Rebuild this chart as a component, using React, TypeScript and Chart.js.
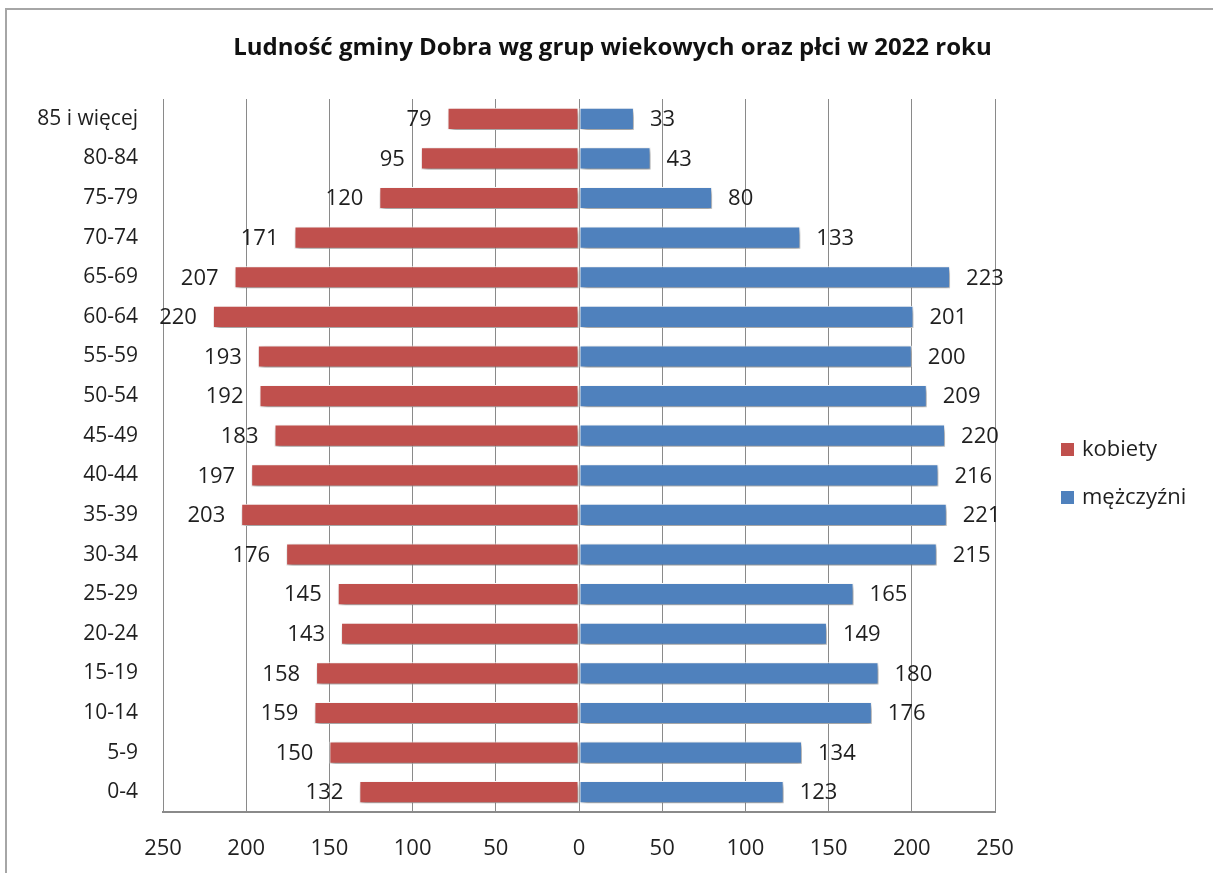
import React, { useEffect, useRef } from "react";
import { Chart, registerables } from "chart.js";

Chart.register(...registerables);

const TITLE = "Ludność gminy Dobra wg grup wiekowych oraz płci w 2022 roku";
const ageGroups = [
  "85 i więcej", "80-84", "75-79", "70-74", "65-69", "60-64", "55-59", "50-54", "45-49",
  "40-44", "35-39", "30-34", "25-29", "20-24", "15-19", "10-14", "5-9", "0-4",
];
const kobiety = [79, 95, 120, 171, 207, 220, 193, 192, 183, 197, 203, 176, 145, 143, 158, 159, 150, 132];
const mezczyzni = [33, 43, 80, 133, 223, 201, 200, 209, 220, 216, 221, 215, 165, 149, 180, 176, 134, 123];
const seriesNames = ["kobiety", "mężczyźni"];
const axisMin = -250;
const axisMax = 250;
const axisStep = 50;

const RED = "#C0504D";
const BLUE = "#4F81BD";
const FONT = "'Open Sans', 'Noto Sans', sans-serif";
const TEXT = "#1f1f1f";

const shadowPlugin = {
  id: "barShadow",
  beforeDatasetsDraw(chart: any) {
    const ctx = chart.ctx;
    ctx.save();
    ctx.shadowColor = "rgba(0,0,0,0.45)";
    ctx.shadowBlur = 5;
    ctx.shadowOffsetX = 2;
    ctx.shadowOffsetY = 3;
  },
  afterDatasetsDraw(chart: any) {
    chart.ctx.restore();
  },
};

const labelsPlugin = {
  id: "barLabels",
  afterDatasetsDraw(chart: any) {
    const ctx = chart.ctx;
    ctx.save();
    ctx.font = `22px ${FONT}`;
    ctx.fillStyle = TEXT;
    ctx.textBaseline = "middle";
    chart.data.datasets.forEach((ds: any, di: number) => {
      const meta = chart.getDatasetMeta(di);
      meta.data.forEach((bar: any, i: number) => {
        const v = ds.data[i];
        const txt = String(Math.abs(v));
        if (v < 0) {
          ctx.textAlign = "right";
          ctx.fillText(txt, bar.x - 16, bar.y + 1);
        } else {
          ctx.textAlign = "left";
          ctx.fillText(txt, bar.x + 16, bar.y + 1);
        }
      });
    });
    ctx.restore();
  },
};

const titleLegendPlugin = {
  id: "titleLegend",
  afterDraw(chart: any) {
    const ctx = chart.ctx;
    ctx.save();
    ctx.fillStyle = "#111";
    ctx.font = `bold 24px ${FONT}`;
    ctx.textAlign = "center";
    ctx.textBaseline = "middle";
    ctx.fillText(TITLE, chart.width / 2 + 6, 48);

    const colors = [RED, BLUE];
    const ys = [450, 498];
    ctx.font = `22px ${FONT}`;
    ctx.textAlign = "left";
    seriesNames.forEach((name, i) => {
      ctx.fillStyle = colors[i];
      ctx.fillRect(1061, ys[i] - 7, 13, 13);
      ctx.fillStyle = TEXT;
      ctx.fillText(name, 1082, ys[i]);
    });
    ctx.restore();
  },
};

export default function App() {
  const ref = useRef<HTMLCanvasElement | null>(null);

  useEffect(() => {
    if (!ref.current) return;
    const chart = new Chart(ref.current, {
      type: "bar",
      data: {
        labels: ageGroups,
        datasets: [
          {
            label: seriesNames[0],
            data: kobiety.map((v) => -v),
            backgroundColor: RED,
            borderColor: "#ffffff",
            borderWidth: 1,
            borderSkipped: false,
          },
          {
            label: seriesNames[1],
            data: mezczyzni,
            backgroundColor: BLUE,
            borderColor: "#ffffff",
            borderWidth: 1,
            borderSkipped: false,
          },
        ],
      },
      options: {
        indexAxis: "y",
        animation: false,
        responsive: true,
        maintainAspectRatio: false,
        layout: { padding: { left: 0, top: 99, right: 218, bottom: 0 } },
        datasets: { bar: { categoryPercentage: 1, barPercentage: 0.56 } },
        plugins: {
          legend: { display: false },
          title: { display: false },
          tooltip: { enabled: false },
        },
        scales: {
          x: {
            type: "linear",
            stacked: true,
            min: axisMin,
            max: axisMax,
            ticks: {
              stepSize: axisStep,
              padding: 24,
              color: TEXT,
              font: { family: FONT, size: 22 },
              callback: (v: any) => String(Math.abs(Number(v))),
            },
            grid: { color: "#8a8a8a", lineWidth: 1, drawTicks: false },
            border: { display: true, color: "#8a8a8a", width: 2 },
            afterFit: (s: any) => {
              s.height = 61;
            },
          },
          y: {
            stacked: true,
            ticks: {
              padding: 25,
              color: TEXT,
              font: { family: FONT, size: 21 },
            },
            grid: { display: false, drawTicks: false },
            border: { display: true, color: "#8a8a8a", width: 1 },
            afterFit: (s: any) => {
              s.width = 163;
            },
          },
        },
      },
      plugins: [shadowPlugin, labelsPlugin, titleLegendPlugin],
    } as any);
    return () => chart.destroy();
  }, []);

  return (
    <div
      style={{
        position: "absolute",
        left: 0,
        top: 0,
        width: 1213,
        height: 873,
        overflow: "hidden",
        background: "#ffffff",
      }}
    >
      <div
        style={{
          position: "absolute",
          left: 5,
          top: 8,
          width: 1230,
          height: 900,
          borderLeft: "2px solid #a6a6a6",
          borderTop: "2px solid #a6a6a6",
        }}
      />
      <canvas ref={ref} style={{ position: "absolute", left: 0, top: 0, width: 1213, height: 873 }} />
    </div>
  );
}
